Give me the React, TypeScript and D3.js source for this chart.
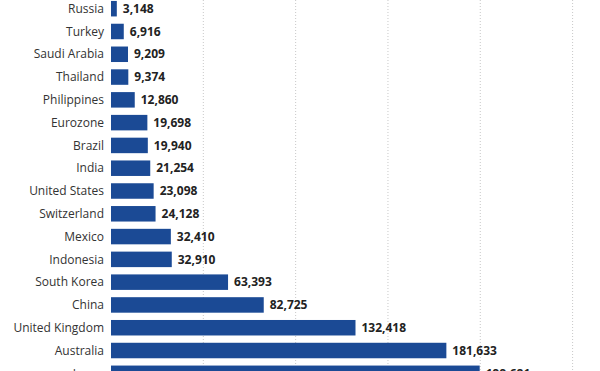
import React from "react";
import * as d3 from "d3";

const countries = [
  "Russia", "Turkey", "Saudi Arabia", "Thailand", "Philippines", "Eurozone", "Brazil", "India",
  "United States", "Switzerland", "Mexico", "Indonesia", "South Korea", "China",
  "United Kingdom", "Australia", "Japan",
];
const values = [
  3148, 6916, 9209, 9374, 12860, 19698, 19940, 21254,
  23098, 24128, 32410, 32910, 63393, 82725,
  132418, 181633, 199681,
];
const gridTicks = [50000, 100000, 150000, 200000, 250000];

const width = 600;
const height = 371;

const App: React.FC = () => {
  // band range chosen so that the last row is cut at the bottom, like the source crop
  const y = d3
    .scaleBand()
    .domain(countries)
    .range([-2.7, 384.7])
    .paddingInner(0.32)
    .paddingOuter(0.16);

  const x = d3.scaleLinear().domain([0, 250000]).range([111, 572.6]);
  const fmt = d3.format(",");

  return (
    <svg
      width={width}
      height={height}
      style={{position: "absolute", left: 0, top: 0, background: "#fff"}}
      fontFamily="'Open Sans', sans-serif"
    >
      <g>
        {gridTicks.map((t) => (
          <line
            key={t}
            x1={x(t)}
            x2={x(t)}
            y1={0}
            y2={height}
            stroke="#c8c8c8"
            strokeWidth={1}
            strokeDasharray="1,2"
          />
        ))}
      </g>
      <g>
        {countries.map((c, i) => {
          const yy = y(c) || 0;
          const cy = yy + y.bandwidth() / 2;
          return (
            <g key={c}>
              <rect
                x={x(0)}
                y={yy}
                width={x(values[i]) - x(0)}
                height={y.bandwidth()}
                fill="#1b4a95"
              />
              <text
                x={104}
                y={cy}
                dy="0.35em"
                textAnchor="end"
                fontSize={12}
                fill="#333"
              >
                {c}
              </text>
              <text
                x={x(values[i]) + 6}
                y={cy}
                dy="0.35em"
                fontSize={12}
                fontWeight="bold"
                fill="#222"
              >
                {fmt(values[i])}
              </text>
            </g>
          );
        })}
      </g>
    </svg>
  );
};

export default App;
